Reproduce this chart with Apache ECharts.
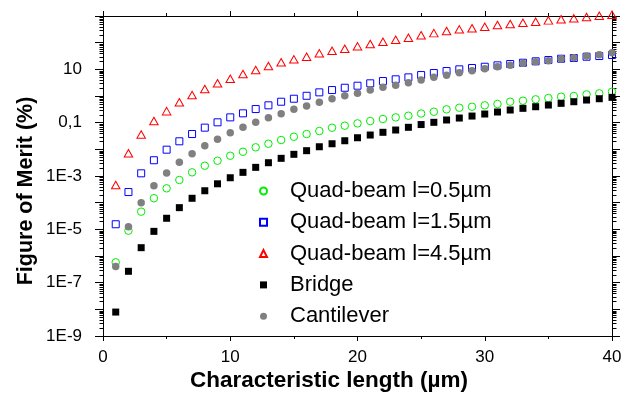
<!DOCTYPE html>
<html>
<head>
<meta charset="utf-8">
<script src="https://cdn.jsdelivr.net/npm/echarts@6/dist/echarts.min.js"></script>
<style>
html,body{margin:0;padding:0;background:#fff;}
#chart{width:630px;height:394px;}
</style>
</head>
<body>
<div id="chart"></div>
<script>
// ---- data ----
var lengths = [1,2,3,4,5,6,7,8,9,10,11,12,13,14,15,16,17,18,19,20,21,22,23,24,25,26,27,28,29,30,31,32,33,34,35,36,37,38,39,40];

var quad05 = [5.8e-7,8.9e-6,4.6e-5,1.47e-4,3.45e-4,7.1e-4,1.37e-3,2.43e-3,3.74e-3,5.75e-3,
  8.1e-3,1.19e-2,1.62e-2,2.23e-2,2.97e-2,3.75e-2,4.86e-2,6.45e-2,7.7e-2,9.4e-2,
  0.115,0.137,0.158,0.182,0.22,0.257,0.316,0.363,0.396,0.447,
  0.5,0.61,0.665,0.75,0.84,0.94,1.0,1.15,1.26,1.45];

var quad15 = [1.55e-5,2.5e-4,1.26e-3,3.9e-3,9.7e-3,2.0e-2,3.75e-2,6.5e-2,0.103,0.158,
  0.224,0.324,0.447,0.61,0.79,1.02,1.37,1.67,2.04,2.43,
  2.99,3.64,4.22,5.0,6.1,7.26,8.63,10.0,11.2,12.5,
  14.1,15.8,17.7,20,22.3,25,26.5,29.7,31.5,34.4];

var quad45 = [4.6e-4,7.1e-3,3.6e-2,0.115,0.27,0.58,1.09,1.82,2.99,4.44,
  6.67,9.4,13.3,18.3,23.7,29.7,39.8,49.8,59.2,72.8,
  88.9,108,129,153,190,228,273,316,345,396,
  458,500,559,610,687,750,817,914,1023,1114];

var bridge = [7.9e-9,2.67e-7,2.05e-6,8.4e-6,2.6e-5,6.5e-5,1.46e-4,2.8e-4,5.1e-4,8.6e-4,
  1.37e-3,2.11e-3,3.15e-3,4.6e-3,6.5e-3,8.9e-3,1.25e-2,1.62e-2,2.1e-2,2.72e-2,
  3.44e-2,4.35e-2,5.3e-2,6.7e-2,8.5e-2,0.103,0.126,0.149,0.177,0.211,
  0.251,0.298,0.345,0.396,0.458,0.53,0.61,0.706,0.79,0.89];

var cantilever = [4.0e-7,1.26e-5,1.0e-4,4.3e-4,1.3e-3,3.26e-3,6.8e-3,1.36e-2,2.37e-2,4.2e-2,
  6.7e-2,0.103,0.153,0.216,0.316,0.42,0.58,0.79,1.02,1.26,
  1.67,2.11,2.51,3.15,3.97,5.0,5.96,7.46,8.87,10.5,
  12.5,14.1,16.8,19.3,21,25,27.2,31.5,35.2,41.9];

var seriesNames = ['Quad-beam l=0.5\u00b5m','Quad-beam l=1.5\u00b5m','Quad-beam l=4.5\u00b5m','Bridge','Cantilever'];

// y tick labels keyed by decade exponent
var yTickLabels = {'-9':'1E-9','-7':'1E-7','-5':'1E-5','-3':'1E-3','-1':'0,1','1':'10'};
var xTickValues = [0,10,20,30,40];

// log minor tick positions (2..9 within each decade)
var yMinorTicks = [];
for (var e = -9; e < 3; e++) {
  for (var m = 2; m <= 9; m++) {
    yMinorTicks.push([0, m * Math.pow(10, e)]);
  }
}

function pairs(ys) { return lengths.map(function (x, i) { return [x, ys[i]]; }); }

var FONT = "'Liberation Sans', Arial, Helvetica, sans-serif";

var chart = echarts.init(document.getElementById('chart'), null, {renderer: 'canvas'});

var axisLineStyle = {color: '#000', width: 1};

var option = {
  backgroundColor: '#fff',
  animation: false,
  textStyle: {fontFamily: FONT},
  grid: {left: 103, right: 18, top: 16, bottom: 58, containLabel: false, outerBoundsMode: 'none'},
  legend: {
    data: seriesNames,
    orient: 'vertical',
    left: 259,
    top: 180,
    padding: 0,
    itemWidth: 7,
    itemHeight: 7,
    itemGap: 9.3,
    selectedMode: false,
    textStyle: {fontSize: 22, color: '#000', fontFamily: FONT, padding: [0, 0, 0, 18]}
  },
  xAxis: [{
    type: 'value',
    min: 0, max: 40, interval: 10,
    position: 'bottom',
    name: 'Characteristic length (\u00b5m)',
    nameLocation: 'middle',
    nameGap: 33,
    nameMoveOverlap: false,
    nameTextStyle: {fontSize: 22.5, fontWeight: 'bold', color: '#000', fontFamily: FONT, padding: [0, 57, 0, 0]},
    axisLine: {show: true, onZero: false, lineStyle: axisLineStyle},
    axisTick: {show: true, inside: false, length: 5, lineStyle: axisLineStyle},
    minorTick: {show: true, splitNumber: 2, length: 3, lineStyle: axisLineStyle},
    axisLabel: {fontSize: 17, color: '#000', margin: 13, fontFamily: FONT},
    splitLine: {show: false}
  }, {
    type: 'value',
    min: 0, max: 40, interval: 10,
    position: 'top',
    axisLine: {show: true, onZero: false, lineStyle: axisLineStyle},
    axisTick: {show: true, inside: false, length: 5, lineStyle: axisLineStyle},
    minorTick: {show: true, splitNumber: 2, length: 3, lineStyle: axisLineStyle},
    axisLabel: {show: false},
    splitLine: {show: false}
  }],
  yAxis: [{
    type: 'log',
    logBase: 10,
    min: 1e-9, max: 1e3,
    interval: 1,
    splitNumber: 12,
    position: 'left',
    name: 'Figure of Merit (%)',
    nameLocation: 'middle',
    nameGap: 66,
    nameMoveOverlap: false,
    nameTextStyle: {fontSize: 21.5, fontWeight: 'bold', color: '#000', fontFamily: FONT, padding: [0, 30, 0, 0]},
    axisLine: {show: true, onZero: false, lineStyle: axisLineStyle},
    axisTick: {show: true, inside: false, length: 8, lineStyle: axisLineStyle},
    axisLabel: {
      fontSize: 17, color: '#000', margin: 21, fontFamily: FONT,
      formatter: function (v) {
        var k = String(Math.round(Math.log(v) / Math.LN10));
        return yTickLabels.hasOwnProperty(k) ? yTickLabels[k] : '';
      }
    },
    splitLine: {show: false}
  }, {
    type: 'log',
    logBase: 10,
    min: 1e-9, max: 1e3,
    interval: 1,
    splitNumber: 12,
    position: 'right',
    axisLine: {show: true, onZero: false, lineStyle: axisLineStyle},
    axisTick: {show: true, inside: false, length: 8, lineStyle: axisLineStyle},
    axisLabel: {show: false},
    splitLine: {show: false}
  }],
  series: [
    {
      type: 'custom',
      name: 'minorTicks',
      silent: true,
      xAxisIndex: 0, yAxisIndex: 0,
      clip: false,
      data: yMinorTicks,
      renderItem: function (params, api) {
        var v = api.value(1);
        var pL = api.coord([0, v]);
        var pR = api.coord([40, v]);
        var y = Math.round(pL[1]) + 0.5;
        var xl = Math.round(pL[0]) + 0.5;
        var xr = Math.round(pR[0]) + 0.5;
        return {
          type: 'group',
          children: [
            {type: 'line', shape: {x1: xl - 4, y1: y, x2: xl, y2: y}, style: {stroke: '#000', lineWidth: 1}},
            {type: 'line', shape: {x1: xr, y1: y, x2: xr + 4, y2: y}, style: {stroke: '#000', lineWidth: 1}}
          ]
        };
      }
    },
    {
      name: seriesNames[0], type: 'scatter', clip: false,
      symbol: 'circle', symbolSize: 7.5,
      itemStyle: {color: 'rgba(0,0,0,0)', borderColor: '#00ee00', borderWidth: 1, opacity: 1},
      data: pairs(quad05)
    },
    {
      name: seriesNames[1], type: 'scatter', clip: false,
      symbol: 'rect', symbolSize: 7,
      itemStyle: {color: 'rgba(0,0,0,0)', borderColor: '#0000ff', borderWidth: 1, opacity: 1},
      data: pairs(quad15)
    },
    {
      name: seriesNames[2], type: 'scatter', clip: false,
      symbol: 'triangle', symbolSize: [8.5, 7.5],
      itemStyle: {color: 'rgba(0,0,0,0)', borderColor: '#ff0000', borderWidth: 1, opacity: 1},
      data: pairs(quad45)
    },
    {
      name: seriesNames[3], type: 'scatter', clip: false,
      symbol: 'rect', symbolSize: 7,
      itemStyle: {color: '#000', opacity: 1},
      data: pairs(bridge)
    },
    {
      name: seriesNames[4], type: 'scatter', clip: false,
      symbol: 'circle', symbolSize: 7.5,
      itemStyle: {color: '#808080', opacity: 1},
      data: pairs(cantilever)
    }
  ]
};

chart.setOption(option);
</script>
</body>
</html>
